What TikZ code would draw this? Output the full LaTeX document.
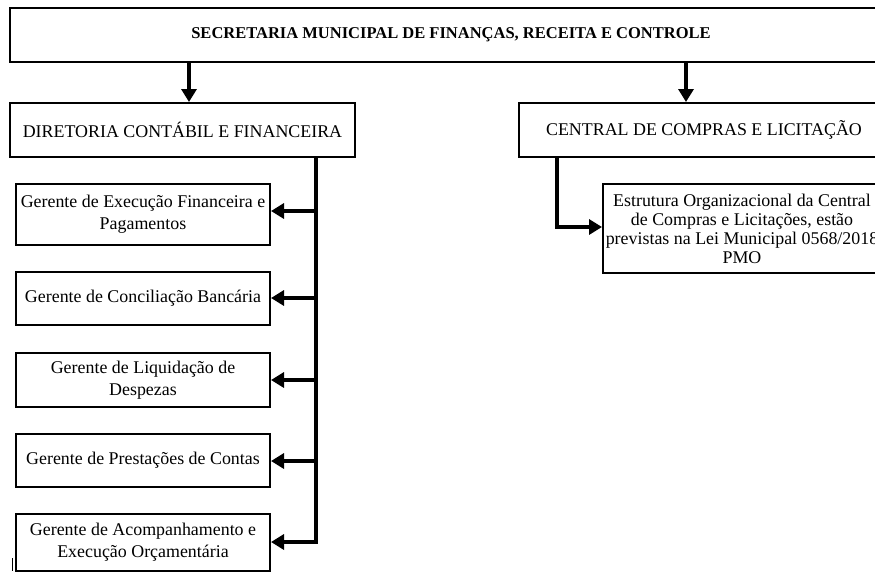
\documentclass[tikz,border=0pt]{standalone}
\usepackage{fontspec}
\setmainfont{Liberation Serif}
\usetikzlibrary{arrows.meta}
\begin{document}
\begin{tikzpicture}[x=1pt,y=-1pt,
  box/.style={draw, line width=2pt, inner sep=0pt, align=center,
    font=\fontsize{17.9}{22}\selectfont},
  conn/.style={line width=4.5pt},
  arr/.style={line width=4.5pt, -{Triangle[length=13pt,width=15pt]}}]
\useasboundingbox (0,0) rectangle (875,571);
\clip (0,0) rectangle (875,571);
\fill[white] (0,0) rectangle (875,571);
% top
\node[box, minimum width=882pt, minimum height=54pt,
  font=\fontsize{16.5}{20}\selectfont\bfseries] (top) at (451,35) {SECRETARIA MUNICIPAL DE FINANÇAS, RECEITA E CONTROLE};
\node[box, minimum width=345pt, minimum height=54pt] (dir) at (182.5,130) {DIRETORIA CONTÁBIL E FINANCEIRA};
\node[box, minimum width=370pt, minimum height=54pt] (cen) at (704,130) {CENTRAL DE COMPRAS E LICITAÇÃO};
% gerentes
\node[box, minimum width=254pt, minimum height=61pt] (g1) at (143,214.5) {Gerente de Execução Financeira e\\Pagamentos};
\node[box, minimum width=254pt, minimum height=53pt] (g2) at (143,298.5) {Gerente de Conciliação Bancária};
\node[box, minimum width=254pt, minimum height=54pt] (g3) at (143,380) {Gerente de Liquidação de\\Despezas};
\node[box, minimum width=254pt, minimum height=53pt] (g4) at (143,460.5) {Gerente de Prestações de Contas};
\node[box, minimum width=254pt, minimum height=57pt] (g5) at (143,542) {Gerente de Acompanhamento e\\Execução Orçamentária};
\node[box, minimum width=278pt, minimum height=89pt,
  font=\fontsize{17.9}{19}\selectfont] (est) at (742,228.5) {Estrutura Organizacional da Central\\de Compras e Licitações, estão\\previstas na Lei Municipal 0568/2018\\PMO};
% top arrows
\draw[arr] (top.south -| 189,0) -- (dir.north -| 189,0);
\draw[arr] (top.south -| 686,0) -- (cen.north -| 686,0);
% left trunk
\coordinate (t1) at (316,211);
\coordinate (t2) at (316,298);
\coordinate (t3) at (316,380);
\coordinate (t4) at (316,461);
\coordinate (t5) at (316,542);
\draw[conn] (dir.south -| t1) -- ([yshift=-2pt]t5);
\draw[arr] (t1) -- (g1.east |- t1);
\draw[arr] (t2) -- (g2.east |- t2);
\draw[arr] (t3) -- (g3.east |- t3);
\draw[arr] (t4) -- (g4.east |- t4);
\draw[arr] (t5) -- (g5.east |- t5);
% right
\coordinate (r1) at (557,227);
\draw[arr] (cen.south -| r1) -- (r1) -- (est.west |- r1);
% cursor mark
\draw[line width=0.8pt] (12.7,558) -- (12.7,571);
\end{tikzpicture}
\end{document}
